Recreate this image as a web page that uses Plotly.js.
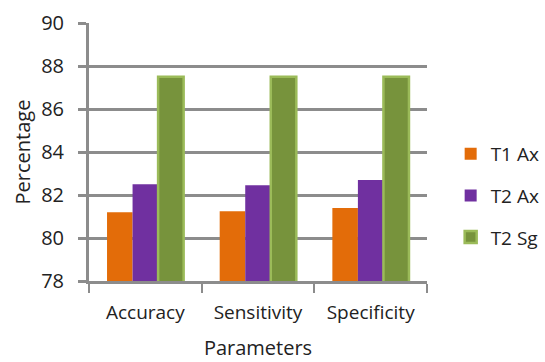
<!DOCTYPE html>
<html>
<head>
<meta charset="utf-8">
<script src="https://cdn.plot.ly/plotly-3.0.1.min.js"></script>
<style>
  html, body { margin: 0; padding: 0; background: #fff; }
  #chart { width: 545px; height: 362px; }
</style>
</head>
<body>
<div id="chart"></div>
<script>
// Classification results per parameter
const categories = ["Accuracy", "Sensitivity", "Specificity"];
const t1Ax = [81.2, 81.25, 81.4];
const t2Ax = [82.5, 82.45, 82.7];
const t2Sg = [87.5, 87.5, 87.5];
const yTicks = [78, 80, 82, 84, 86, 88, 90];

const font = "Open Sans, Liberation Sans, sans-serif";
const gray = "#8c8c8c";

const traces = [
  { name: "T1 Ax", y: t1Ax, color: "#E36C09", line: "#E36C09", lw: 0 },
  { name: "T2 Ax", y: t2Ax, color: "#7030A0", line: "#7030A0", lw: 0 },
  { name: "T2 Sg", y: t2Sg, color: "#77933C", line: "#9BBB59", lw: 2.5 }
].map((s, i) => ({
  type: "bar",
  name: s.name,
  x: categories,
  y: s.y,
  legendgroup: "g" + i,
  marker: { color: s.color, line: { color: s.line, width: s.lw } }
}));

const layout = {
  width: 545,
  height: 362,
  margin: { l: 89, r: 118, t: 23, b: 81, autoexpand: false },
  paper_bgcolor: "#fff",
  plot_bgcolor: "#fff",
  barmode: "group",
  bargap: 0.32,
  bargroupgap: 0,
  font: { family: font, color: "#222", size: 19 },
  showlegend: true,
  legend: {
    x: 1.07, xanchor: "left",
    y: 0.33, yanchor: "middle",
    tracegroupgap: 14,
    itemwidth: 30,
    font: { size: 19 }
  },
  xaxis: {
    type: "category",
    showline: true, linecolor: gray, linewidth: 3,
    ticks: "outside", tickson: "boundaries", ticklen: 9, tickwidth: 2, tickcolor: gray,
    ticklabelstandoff: 12,
    showgrid: false,
    tickfont: { size: 19 },
    title: { text: "Parameters", font: { size: 20 }, standoff: 18 }
  },
  yaxis: {
    range: [78, 90],
    tickvals: yTicks,
    ticktext: yTicks.map(String),
    showline: true, linecolor: gray, linewidth: 3,
    ticks: "outside", ticklen: 8, tickwidth: 3, tickcolor: gray,
    ticklabelstandoff: 10,
    showgrid: true, gridcolor: gray, gridwidth: 3,
    zeroline: false,
    tickfont: { size: 20 },
    title: { text: "Percentage", font: { size: 20 }, standoff: 6 }
  }
};

Plotly.newPlot("chart", traces, layout, { staticPlot: true, displayModeBar: false });
</script>
</body>
</html>
